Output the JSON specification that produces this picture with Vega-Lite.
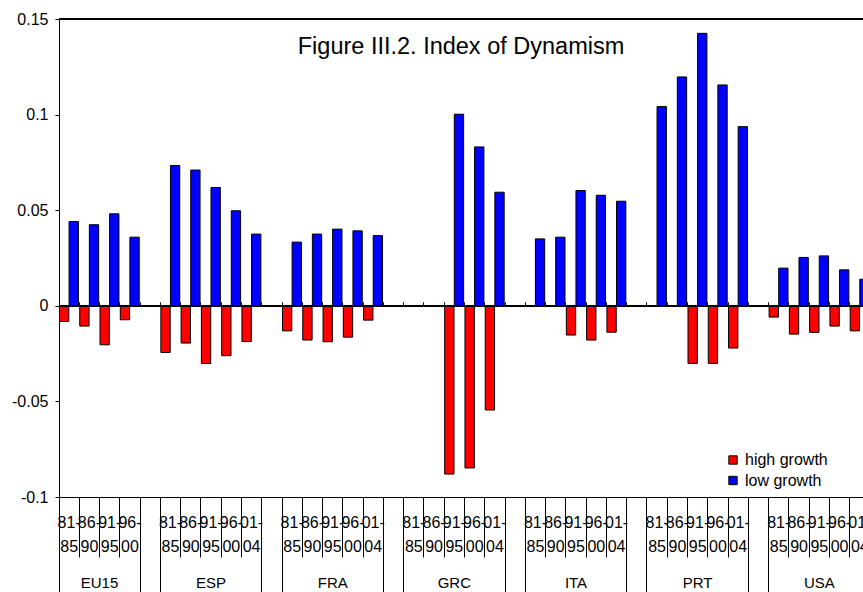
{
  "$schema": "https://vega.github.io/schema/vega-lite/v6.json",
  "width": 804,
  "height": 478,
  "autosize": {"type": "none"},
  "padding": {"left": 59, "top": 19, "right": 0, "bottom": 95},
  "background": "white",
  "config": {
    "font": "Liberation Sans",
    "view": {"stroke": null},
    "axis": {"labelColor": "black", "domainColor": "black", "tickColor": "black", "grid": false, "title": null, "labelFont": "Liberation Sans"},
    "title": {"font": "Liberation Sans", "fontWeight": "normal", "color": "black"}
  },
  "title": {"text": "Figure III.2. Index of Dynamism", "fontSize": 23.5, "anchor": "middle", "baseline": "alphabetic", "offset": -32, "dy": 34},
  "data": {
    "values": [
      {"slot": "EU15|81-|85", "country": "EU15", "period": "81-85", "series": "high growth", "value": -0.0082},
      {"slot": "EU15|81-|85", "country": "EU15", "period": "81-85", "series": "low growth", "value": 0.0441},
      {"slot": "EU15|86-|90", "country": "EU15", "period": "86-90", "series": "high growth", "value": -0.0106},
      {"slot": "EU15|86-|90", "country": "EU15", "period": "86-90", "series": "low growth", "value": 0.0424},
      {"slot": "EU15|91-|95", "country": "EU15", "period": "91-95", "series": "high growth", "value": -0.0204},
      {"slot": "EU15|91-|95", "country": "EU15", "period": "91-95", "series": "low growth", "value": 0.0481},
      {"slot": "EU15|96-|00", "country": "EU15", "period": "96-00", "series": "high growth", "value": -0.0073},
      {"slot": "EU15|96-|00", "country": "EU15", "period": "96-00", "series": "low growth", "value": 0.0359},
      {"slot": "ESP|81-|85", "country": "ESP", "period": "81-85", "series": "high growth", "value": -0.0244},
      {"slot": "ESP|81-|85", "country": "ESP", "period": "81-85", "series": "low growth", "value": 0.0734},
      {"slot": "ESP|86-|90", "country": "ESP", "period": "86-90", "series": "high growth", "value": -0.0195},
      {"slot": "ESP|86-|90", "country": "ESP", "period": "86-90", "series": "low growth", "value": 0.0710},
      {"slot": "ESP|91-|95", "country": "ESP", "period": "91-95", "series": "high growth", "value": -0.0302},
      {"slot": "ESP|91-|95", "country": "ESP", "period": "91-95", "series": "low growth", "value": 0.0619},
      {"slot": "ESP|96-|00", "country": "ESP", "period": "96-00", "series": "high growth", "value": -0.0261},
      {"slot": "ESP|96-|00", "country": "ESP", "period": "96-00", "series": "low growth", "value": 0.0497},
      {"slot": "ESP|01-|04", "country": "ESP", "period": "01-04", "series": "high growth", "value": -0.0187},
      {"slot": "ESP|01-|04", "country": "ESP", "period": "01-04", "series": "low growth", "value": 0.0375},
      {"slot": "FRA|81-|85", "country": "FRA", "period": "81-85", "series": "high growth", "value": -0.0131},
      {"slot": "FRA|81-|85", "country": "FRA", "period": "81-85", "series": "low growth", "value": 0.0333},
      {"slot": "FRA|86-|90", "country": "FRA", "period": "86-90", "series": "high growth", "value": -0.0179},
      {"slot": "FRA|86-|90", "country": "FRA", "period": "86-90", "series": "low growth", "value": 0.0375},
      {"slot": "FRA|91-|95", "country": "FRA", "period": "91-95", "series": "high growth", "value": -0.0188},
      {"slot": "FRA|91-|95", "country": "FRA", "period": "91-95", "series": "low growth", "value": 0.0401},
      {"slot": "FRA|96-|00", "country": "FRA", "period": "96-00", "series": "high growth", "value": -0.0164},
      {"slot": "FRA|96-|00", "country": "FRA", "period": "96-00", "series": "low growth", "value": 0.0392},
      {"slot": "FRA|01-|04", "country": "FRA", "period": "01-04", "series": "high growth", "value": -0.0075},
      {"slot": "FRA|01-|04", "country": "FRA", "period": "01-04", "series": "low growth", "value": 0.0367},
      {"slot": "GRC|91-|95", "country": "GRC", "period": "91-95", "series": "high growth", "value": -0.0880},
      {"slot": "GRC|91-|95", "country": "GRC", "period": "91-95", "series": "low growth", "value": 0.1002},
      {"slot": "GRC|96-|00", "country": "GRC", "period": "96-00", "series": "high growth", "value": -0.0848},
      {"slot": "GRC|96-|00", "country": "GRC", "period": "96-00", "series": "low growth", "value": 0.0831},
      {"slot": "GRC|01-|04", "country": "GRC", "period": "01-04", "series": "high growth", "value": -0.0545},
      {"slot": "GRC|01-|04", "country": "GRC", "period": "01-04", "series": "low growth", "value": 0.0594},
      {"slot": "ITA|81-|85", "country": "ITA", "period": "81-85", "series": "low growth", "value": 0.0350},
      {"slot": "ITA|86-|90", "country": "ITA", "period": "86-90", "series": "low growth", "value": 0.0359},
      {"slot": "ITA|91-|95", "country": "ITA", "period": "91-95", "series": "high growth", "value": -0.0153},
      {"slot": "ITA|91-|95", "country": "ITA", "period": "91-95", "series": "low growth", "value": 0.0603},
      {"slot": "ITA|96-|00", "country": "ITA", "period": "96-00", "series": "high growth", "value": -0.0179},
      {"slot": "ITA|96-|00", "country": "ITA", "period": "96-00", "series": "low growth", "value": 0.0578},
      {"slot": "ITA|01-|04", "country": "ITA", "period": "01-04", "series": "high growth", "value": -0.0138},
      {"slot": "ITA|01-|04", "country": "ITA", "period": "01-04", "series": "low growth", "value": 0.0547},
      {"slot": "PRT|81-|85", "country": "PRT", "period": "81-85", "series": "low growth", "value": 0.1042},
      {"slot": "PRT|86-|90", "country": "PRT", "period": "86-90", "series": "low growth", "value": 0.1197},
      {"slot": "PRT|91-|95", "country": "PRT", "period": "91-95", "series": "high growth", "value": -0.0301},
      {"slot": "PRT|91-|95", "country": "PRT", "period": "91-95", "series": "low growth", "value": 0.1425},
      {"slot": "PRT|96-|00", "country": "PRT", "period": "96-00", "series": "high growth", "value": -0.0301},
      {"slot": "PRT|96-|00", "country": "PRT", "period": "96-00", "series": "low growth", "value": 0.1155},
      {"slot": "PRT|01-|04", "country": "PRT", "period": "01-04", "series": "high growth", "value": -0.0221},
      {"slot": "PRT|01-|04", "country": "PRT", "period": "01-04", "series": "low growth", "value": 0.0937},
      {"slot": "USA|81-|85", "country": "USA", "period": "81-85", "series": "high growth", "value": -0.0059},
      {"slot": "USA|81-|85", "country": "USA", "period": "81-85", "series": "low growth", "value": 0.0197},
      {"slot": "USA|86-|90", "country": "USA", "period": "86-90", "series": "high growth", "value": -0.0148},
      {"slot": "USA|86-|90", "country": "USA", "period": "86-90", "series": "low growth", "value": 0.0253},
      {"slot": "USA|91-|95", "country": "USA", "period": "91-95", "series": "high growth", "value": -0.0139},
      {"slot": "USA|91-|95", "country": "USA", "period": "91-95", "series": "low growth", "value": 0.0261},
      {"slot": "USA|96-|00", "country": "USA", "period": "96-00", "series": "high growth", "value": -0.0106},
      {"slot": "USA|96-|00", "country": "USA", "period": "96-00", "series": "low growth", "value": 0.0188},
      {"slot": "USA|01-|04", "country": "USA", "period": "01-04", "series": "high growth", "value": -0.0131},
      {"slot": "USA|01-|04", "country": "USA", "period": "01-04", "series": "low growth", "value": 0.0139}
    ]
  },
  "layer": [
    {
      "transform": [{"filter": "datum.series == 'high growth'"}],
      "mark": {"type": "bar", "stroke": "black", "strokeWidth": 1, "width": {"band": 0.46}, "xOffset": -5},
      "encoding": {
        "x": {
          "field": "slot", "type": "nominal",
          "scale": {"domain": ["EU15|81-|85","EU15|86-|90","EU15|91-|95","EU15|96-|00","gap1","ESP|81-|85","ESP|86-|90","ESP|91-|95","ESP|96-|00","ESP|01-|04","gap2","FRA|81-|85","FRA|86-|90","FRA|91-|95","FRA|96-|00","FRA|01-|04","gap3","GRC|81-|85","GRC|86-|90","GRC|91-|95","GRC|96-|00","GRC|01-|04","gap4","ITA|81-|85","ITA|86-|90","ITA|91-|95","ITA|96-|00","ITA|01-|04","gap5","PRT|81-|85","PRT|86-|90","PRT|91-|95","PRT|96-|00","PRT|01-|04","gap6","USA|81-|85","USA|86-|90","USA|91-|95","USA|96-|00","USA|01-|04"], "range": [0, 811], "paddingInner": 0, "paddingOuter": 0},
          "axis": {
            "orient": "bottom", "title": null, "domain": true, "ticks": false, "tickSize": 0,
            "labelExpr": "indexof(datum.value, '|') < 0 ? '' : split(datum.value, '|')[1]",
            "labelFontSize": 16, "labelBaseline": "middle", "labelPadding": 25,
            "labelAngle": 0, "labelOverlap": false, "labelBound": false, "labelFlush": false
          }
        },
        "y": {
          "field": "value", "type": "quantitative", "stack": null,
          "scale": {"domain": [-0.1, 0.15], "nice": false, "zero": false},
          "axis": {
            "title": null, "values": [-0.1, -0.05, 0, 0.05, 0.1, 0.15], "tickSize": 4, "labelPadding": 7,
            "labelFontSize": 16, "labelExpr": "(datum.value < 0 ? '-' : '') + format(abs(datum.value), '')", "labelFlush": false, "labelOverlap": false
          }
        },
        "color": {
          "field": "series", "type": "nominal",
          "scale": {"domain": ["high growth", "low growth"], "range": ["#ff0000", "#0000ff"]},
          "legend": {
            "title": null, "orient": "none", "legendX": 666, "legendY": 433, "padding": 0,
            "symbolType": "square", "symbolSize": 70, "symbolStrokeColor": "black", "symbolStrokeWidth": 1,
            "labelFontSize": 16, "labelColor": "black", "labelOffset": 4, "rowPadding": 4.5
          }
        }
      }
    },
    {
      "transform": [{"filter": "datum.series == 'low growth'"}],
      "mark": {"type": "bar", "stroke": "black", "strokeWidth": 1, "width": {"band": 0.46}, "xOffset": 4.6},
      "encoding": {
        "x": {
          "field": "slot", "type": "nominal",
          "scale": {"domain": ["EU15|81-|85","EU15|86-|90","EU15|91-|95","EU15|96-|00","gap1","ESP|81-|85","ESP|86-|90","ESP|91-|95","ESP|96-|00","ESP|01-|04","gap2","FRA|81-|85","FRA|86-|90","FRA|91-|95","FRA|96-|00","FRA|01-|04","gap3","GRC|81-|85","GRC|86-|90","GRC|91-|95","GRC|96-|00","GRC|01-|04","gap4","ITA|81-|85","ITA|86-|90","ITA|91-|95","ITA|96-|00","ITA|01-|04","gap5","PRT|81-|85","PRT|86-|90","PRT|91-|95","PRT|96-|00","PRT|01-|04","gap6","USA|81-|85","USA|86-|90","USA|91-|95","USA|96-|00","USA|01-|04"], "range": [0, 811], "paddingInner": 0, "paddingOuter": 0},
          "axis": {
            "orient": "bottom", "title": null, "domain": false, "ticks": false, "tickSize": 0,
            "labelExpr": "indexof(datum.value, '|') < 0 ? '' : split(datum.value, '|')[2]",
            "labelFontSize": 16, "labelBaseline": "middle", "labelPadding": 49.5,
            "labelAngle": 0, "labelOverlap": false, "labelBound": false, "labelFlush": false
          }
        },
        "y": {"field": "value", "type": "quantitative", "stack": null},
        "color": {"field": "series", "type": "nominal"}
      }
    },
    {
      "mark": {"type": "tick", "opacity": 0},
      "encoding": {
        "x": {
          "field": "slot", "type": "nominal",
          "scale": {"domain": ["EU15|81-|85","EU15|86-|90","EU15|91-|95","EU15|96-|00","gap1","ESP|81-|85","ESP|86-|90","ESP|91-|95","ESP|96-|00","ESP|01-|04","gap2","FRA|81-|85","FRA|86-|90","FRA|91-|95","FRA|96-|00","FRA|01-|04","gap3","GRC|81-|85","GRC|86-|90","GRC|91-|95","GRC|96-|00","GRC|01-|04","gap4","ITA|81-|85","ITA|86-|90","ITA|91-|95","ITA|96-|00","ITA|01-|04","gap5","PRT|81-|85","PRT|86-|90","PRT|91-|95","PRT|96-|00","PRT|01-|04","gap6","USA|81-|85","USA|86-|90","USA|91-|95","USA|96-|00","USA|01-|04"], "range": [0, 811], "paddingInner": 0, "paddingOuter": 0},
          "axis": {"orient": "bottom", "title": null, "domain": false, "labels": false, "bandPosition": 0, "tickSize": 60}
        }
      }
    },
    {
      "mark": {"type": "tick", "opacity": 0},
      "encoding": {
        "x": {
          "field": "slot", "type": "nominal",
          "scale": {"domain": ["EU15|81-|85","EU15|86-|90","EU15|91-|95","EU15|96-|00","gap1","ESP|81-|85","ESP|86-|90","ESP|91-|95","ESP|96-|00","ESP|01-|04","gap2","FRA|81-|85","FRA|86-|90","FRA|91-|95","FRA|96-|00","FRA|01-|04","gap3","GRC|81-|85","GRC|86-|90","GRC|91-|95","GRC|96-|00","GRC|01-|04","gap4","ITA|81-|85","ITA|86-|90","ITA|91-|95","ITA|96-|00","ITA|01-|04","gap5","PRT|81-|85","PRT|86-|90","PRT|91-|95","PRT|96-|00","PRT|01-|04","gap6","USA|81-|85","USA|86-|90","USA|91-|95","USA|96-|00","USA|01-|04"], "range": [0, 811], "paddingInner": 0, "paddingOuter": 0},
          "axis": {
            "orient": "bottom", "title": null, "domain": false, "labels": false, "bandPosition": 0, "tickSize": 100,
            "values": ["EU15|81-|85", "gap1", "ESP|81-|85", "gap2", "FRA|81-|85", "gap3", "GRC|81-|85", "gap4", "ITA|81-|85", "gap5", "PRT|81-|85", "gap6", "USA|81-|85"]
          }
        }
      }
    },
    {
      "mark": {"type": "tick", "opacity": 0},
      "encoding": {
        "x": {
          "field": "slot", "type": "nominal",
          "scale": {"domain": ["EU15|81-|85","EU15|86-|90","EU15|91-|95","EU15|96-|00","gap1","ESP|81-|85","ESP|86-|90","ESP|91-|95","ESP|96-|00","ESP|01-|04","gap2","FRA|81-|85","FRA|86-|90","FRA|91-|95","FRA|96-|00","FRA|01-|04","gap3","GRC|81-|85","GRC|86-|90","GRC|91-|95","GRC|96-|00","GRC|01-|04","gap4","ITA|81-|85","ITA|86-|90","ITA|91-|95","ITA|96-|00","ITA|01-|04","gap5","PRT|81-|85","PRT|86-|90","PRT|91-|95","PRT|96-|00","PRT|01-|04","gap6","USA|81-|85","USA|86-|90","USA|91-|95","USA|96-|00","USA|01-|04"], "range": [0, 811], "paddingInner": 0, "paddingOuter": 0},
          "axis": {
            "orient": "bottom", "title": null, "domain": false, "ticks": false, "tickSize": 0,
            "values": ["ESP|91-|95", "FRA|91-|95", "GRC|91-|95", "ITA|91-|95", "PRT|91-|95", "USA|91-|95"],
            "labelExpr": "split(datum.value, '|')[0]",
            "labelFontSize": 15, "labelBaseline": "middle", "labelPadding": 85.5,
            "labelAngle": 0, "labelOverlap": false, "labelBound": false, "labelFlush": false
          }
        }
      }
    },
    {
      "mark": {"type": "tick", "opacity": 0},
      "encoding": {
        "x": {
          "field": "slot", "type": "nominal",
          "scale": {"domain": ["EU15|81-|85","EU15|86-|90","EU15|91-|95","EU15|96-|00","gap1","ESP|81-|85","ESP|86-|90","ESP|91-|95","ESP|96-|00","ESP|01-|04","gap2","FRA|81-|85","FRA|86-|90","FRA|91-|95","FRA|96-|00","FRA|01-|04","gap3","GRC|81-|85","GRC|86-|90","GRC|91-|95","GRC|96-|00","GRC|01-|04","gap4","ITA|81-|85","ITA|86-|90","ITA|91-|95","ITA|96-|00","ITA|01-|04","gap5","PRT|81-|85","PRT|86-|90","PRT|91-|95","PRT|96-|00","PRT|01-|04","gap6","USA|81-|85","USA|86-|90","USA|91-|95","USA|96-|00","USA|01-|04"], "range": [0, 811], "paddingInner": 0, "paddingOuter": 0},
          "axis": {
            "orient": "bottom", "title": null, "domain": false, "ticks": false, "tickSize": 0,
            "values": ["EU15|91-|95"],
            "labelExpr": "split(datum.value, '|')[0]",
            "labelFontSize": 15, "labelBaseline": "middle", "labelPadding": 85.5, "labelOffset": -10.14,
            "labelAngle": 0, "labelOverlap": false, "labelBound": false, "labelFlush": false
          }
        }
      }
    },
    {
      "mark": {"type": "tick", "opacity": 0},
      "encoding": {
        "x": {
          "field": "slot", "type": "nominal",
          "scale": {"domain": ["EU15|81-|85","EU15|86-|90","EU15|91-|95","EU15|96-|00","gap1","ESP|81-|85","ESP|86-|90","ESP|91-|95","ESP|96-|00","ESP|01-|04","gap2","FRA|81-|85","FRA|86-|90","FRA|91-|95","FRA|96-|00","FRA|01-|04","gap3","GRC|81-|85","GRC|86-|90","GRC|91-|95","GRC|96-|00","GRC|01-|04","gap4","ITA|81-|85","ITA|86-|90","ITA|91-|95","ITA|96-|00","ITA|01-|04","gap5","PRT|81-|85","PRT|86-|90","PRT|91-|95","PRT|96-|00","PRT|01-|04","gap6","USA|81-|85","USA|86-|90","USA|91-|95","USA|96-|00","USA|01-|04"], "range": [0, 811], "paddingInner": 0, "paddingOuter": 0},
          "axis": {"orient": "top", "offset": -286.8, "title": null, "domain": false, "labels": false, "bandPosition": 0, "tickSize": 4}
        }
      }
    },
    {
      "mark": {"type": "rule", "color": "black", "strokeWidth": 1},
      "encoding": {"y": {"datum": 0}}
    },
    {
      "mark": {"type": "rule", "color": "black", "strokeWidth": 1},
      "encoding": {"y": {"datum": 0.15}}
    }
  ],
  "resolve": {"scale": {"x": "independent"}, "axis": {"x": "independent"}}
}
